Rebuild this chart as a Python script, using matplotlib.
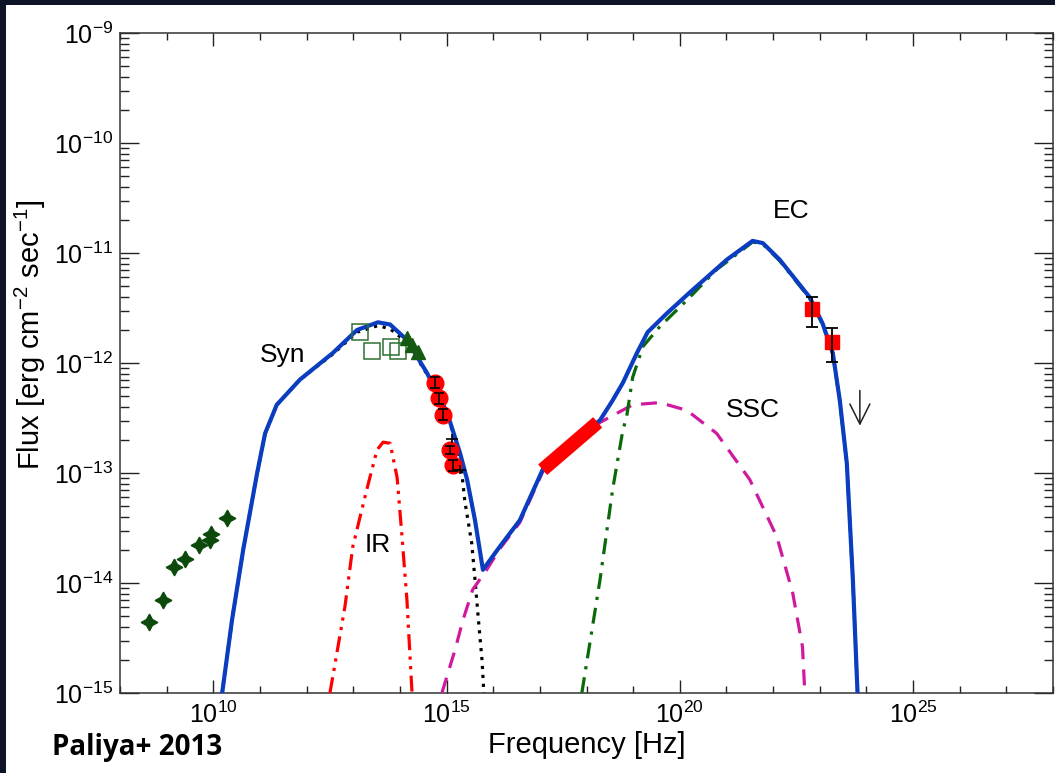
import numpy as np
import matplotlib
matplotlib.use('Agg')
import matplotlib.pyplot as plt
from matplotlib.ticker import FixedLocator, LogFormatterMathtext, NullFormatter
from matplotlib.patches import Rectangle

plt.rcParams['font.family'] = ['Liberation Sans', 'DejaVu Sans']
plt.rcParams['mathtext.fontset'] = 'custom'
plt.rcParams['mathtext.rm'] = 'Liberation Sans'
plt.rcParams['mathtext.it'] = 'Liberation Sans:italic'
plt.rcParams['mathtext.bf'] = 'Liberation Sans:bold'
plt.rcParams['axes.unicode_minus'] = False

# ---------------- data (log10 values) ----------------
# total model (blue)
total_lognu = [10.19, 10.40, 10.64, 10.94, 11.11, 11.36, 11.86, 12.56, 13.08, 13.53, 13.79,
               14.15, 14.58, 15.01, 15.29, 15.44, 15.61, 15.78, 16.14, 16.57, 17.06, 17.64,
               18.29, 18.56, 18.78, 19.08, 19.31, 19.72, 20.21, 21.01, 21.56, 21.78, 22.14,
               22.78, 23.06, 23.28, 23.43, 23.58, 23.71, 23.81]
total_logf = [-15.00, -14.34, -13.70, -13.00, -12.64, -12.38, -12.15, -11.91, -11.70, -11.63, -11.65,
              -11.79, -12.09, -12.45, -12.82, -13.06, -13.43, -13.88, -13.67, -13.43, -12.97, -12.75,
              -12.52, -12.34, -12.18, -11.91, -11.72, -11.55, -11.36, -11.06, -10.89, -10.91, -11.06,
              -11.40, -11.64, -11.91, -12.34, -12.91, -13.97, -15.00]

# synchrotron (black dotted)
syn_lognu = [10.19, 10.40, 10.64, 10.94, 11.11, 11.36, 11.86, 12.56, 13.08, 13.53, 13.79,
             14.15, 14.58, 15.01, 15.29, 15.39, 15.54, 15.61, 15.67, 15.76, 15.80]
syn_logf = [-15.00, -14.34, -13.70, -13.00, -12.64, -12.38, -12.15, -11.92, -11.72, -11.66, -11.69,
            -11.81, -12.10, -12.46, -12.85, -13.25, -13.64, -13.97, -14.27, -14.70, -15.00]

# IR torus (red dash-dot-dot)
ir_lognu = [12.50, 12.82, 12.99, 13.29, 13.51, 13.64, 13.79, 13.94, 14.04, 14.15, 14.26]
ir_logf = [-15.00, -14.22, -13.67, -13.15, -12.79, -12.72, -12.73, -13.04, -13.55, -14.15, -15.00]

# SSC (magenta dashed)
ssc_lognu = [14.90, 15.18, 15.35, 15.56, 15.86, 16.14, 16.57, 17.06, 17.64, 18.29, 18.99,
             19.57, 20.15, 20.79, 21.50, 22.08, 22.42, 22.63, 22.68]
ssc_logf = [-15.00, -14.61, -14.34, -14.06, -13.88, -13.69, -13.45, -12.99, -12.77, -12.54, -12.38,
            -12.36, -12.43, -12.64, -13.06, -13.58, -14.09, -14.58, -15.00]

# EC (green dash-dot)
ec_lognu = [17.90, 18.29, 18.56, 18.78, 18.86, 18.99, 19.21, 19.57, 20.15, 20.79, 21.01,
            21.56, 21.78, 22.14, 22.78, 23.06, 23.28, 23.43, 23.58, 23.71, 23.81]
ec_logf = [-15.00, -13.97, -13.15, -12.61, -12.49, -12.13, -11.85, -11.67, -11.43, -11.15, -11.08,
           -10.90, -10.92, -11.07, -11.41, -11.65, -11.92, -12.35, -12.92, -13.98, -15.00]

# radio (dark green stars)
radio_lognu = [8.62, 8.92, 9.16, 9.39, 9.69, 9.93, 9.95, 10.29]
radio_logf = [-14.35, -14.15, -13.85, -13.78, -13.65, -13.61, -13.55, -13.41]

# IR archival (open squares)
wise_lognu = [13.14, 13.40, 13.81, 13.96]
wise_logf = [-11.72, -11.89, -11.85, -11.89]

# optical (filled triangles)
opt_lognu = [14.15, 14.26, 14.39]
opt_logf = [-11.77, -11.84, -11.90]

# UVOT (red circles)
uv_lognu = [14.75, 14.84, 14.92, 15.07, 15.14]
uv_logf = [-12.18, -12.32, -12.47, -12.79, -12.93]
uv_logerr = [0.05, 0.05, 0.05, 0.04, 0.05]

# extra UV points (black crosses)
uvx_lognu = [15.11, 15.29]
uvx_logf = [-12.69, -12.97]

# X-ray bow-tie (thick red bar)
xray_lognu = [17.06, 18.24]
xray_logf = [-12.97, -12.54]

# Fermi-LAT (red squares)
lat_lognu = [22.83, 23.26]
lat_logf = [-11.51, -11.81]
lat_loglo = [-11.67, -11.99]
lat_loghi = [-11.40, -11.68]

# upper limit
ul_lognu = [23.86]
ul_logf = [-12.25]
ul_logend = [-12.57]

# ---------------------------------------------------------------------------
def p(a):
    return 10.0 ** np.asarray(a, dtype=float)

W, H = 1055, 773
fig = plt.figure(figsize=(W / 100, H / 100), dpi=100)
fig.patch.set_facecolor('#0d1426')
fig.patches.append(Rectangle((6 / W, 0), 1, 1 - 5 / H, transform=fig.transFigure,
                             facecolor='white', edgecolor='none', zorder=-10))

ax = fig.add_axes([120 / W, 80 / H, 933 / W, 660 / H])
ax.set_zorder(5)
ax.set_facecolor('white')
ax.set_xscale('log')
ax.set_yscale('log')
ax.set_xlim(1e8, 1e28)
ax.set_ylim(1e-15, 1e-9)

blue = '#0a3dc0'
ax.plot(p(ir_lognu), p(ir_logf), color='#ff0000', lw=2.3, ls=(0, (5, 2, 1, 2, 1, 2)), zorder=3)
ax.plot(p(syn_lognu), p(syn_logf), color='black', lw=2.3, ls=(0, (1, 1.8)), zorder=3)
ax.plot(p(ssc_lognu), p(ssc_logf), color='#d01a9e', lw=2.3, ls=(0, (5, 3.2)), zorder=3)
ax.plot(p(ec_lognu), p(ec_logf), color='#0a6a0a', lw=2.3, ls=(0, (5, 2.5, 1, 2.5)), zorder=3)
ax.plot(p(total_lognu), p(total_logf), color=blue, lw=3.0, zorder=4, solid_joinstyle='round')

# data
ax.plot(p(radio_lognu), p(radio_logf), ls='none', marker=(4, 1, 0), ms=12,
        color='#0b4a0b', mec='#0b4a0b', zorder=5)
ax.plot(p(wise_lognu), p(wise_logf), ls='none', marker='s', ms=11, mfc='none',
        mec='#2f6f2f', mew=1.1, zorder=5)
ax.plot(p(opt_lognu), p(opt_logf), ls='none', marker='^', ms=10, color='#145a14', zorder=5)

uvf = p(uv_logf)
uerr = np.array([uvf - p(np.array(uv_logf) - np.array(uv_logerr)),
                 p(np.array(uv_logf) + np.array(uv_logerr)) - uvf])
ax.plot(p(uv_lognu), uvf, ls='none', marker='o', ms=12, color='#ff0000', zorder=6)
ax.errorbar(p(uv_lognu), uvf, yerr=uerr, fmt='none', ecolor='black', elinewidth=1.2,
            capsize=3.5, capthick=1.2, zorder=7)

uxf = p(uvx_logf)
uxn = p(uvx_lognu)
ax.errorbar(uxn, uxf,
            xerr=[uxn - uxn / 10 ** 0.13, uxn * 10 ** 0.13 - uxn],
            yerr=[uxf - uxf / 10 ** 0.04, uxf * 10 ** 0.04 - uxf],
            fmt='none', ecolor='black', elinewidth=1.2, zorder=7)

ax.plot(p(xray_lognu), p(xray_logf), color='#ff0000', lw=10, solid_capstyle='butt', zorder=5)

latf = p(lat_logf)
ax.errorbar(p(lat_lognu), latf, yerr=[latf - p(lat_loglo), p(lat_loghi) - latf], fmt='none',
            ecolor='black', elinewidth=1.3, capsize=4, capthick=1.3, zorder=7)
ax.plot(p(lat_lognu), latf, ls='none', marker='s', ms=10, color='#ff0000', zorder=6)

for xn, y0, y1 in zip(ul_lognu, ul_logf, ul_logend):
    ax.annotate('', xy=(p(xn), p(y1)), xytext=(p(xn), p(y0)),
                arrowprops=dict(arrowstyle='->,head_length=0.9,head_width=0.45',
                                mutation_scale=16, color='#222222', lw=1.1,
                                shrinkA=0, shrinkB=0), zorder=7)

# component labels
fs = 19
ax.text(p(11.49), p(-11.93), 'Syn', fontsize=fs, ha='center', va='center')
ax.text(p(13.53), p(-13.65), 'IR', fontsize=fs, ha='center', va='center')
ax.text(p(21.56), p(-12.43), 'SSC', fontsize=fs, ha='center', va='center')
ax.text(p(22.38), p(-10.62), 'EC', fontsize=fs, ha='center', va='center')

# ticks
ax.xaxis.set_major_locator(FixedLocator([1e10, 1e15, 1e20, 1e25]))
ax.xaxis.set_major_formatter(LogFormatterMathtext())
ax.xaxis.set_minor_locator(FixedLocator([10.0 ** k for k in range(8, 29) if k % 5 != 0]))
ax.xaxis.set_minor_formatter(NullFormatter())
ax.yaxis.set_major_locator(FixedLocator([10.0 ** k for k in range(-15, -8)]))
ax.yaxis.set_major_formatter(LogFormatterMathtext())
ax.yaxis.set_minor_locator(FixedLocator([m * 10.0 ** k for k in range(-15, -9) for m in range(2, 10)]))
ax.yaxis.set_minor_formatter(NullFormatter())

ax.tick_params(axis='both', which='both', direction='in', top=True, right=True,
               colors='#222222', labelcolor='black', labelsize=18)
ax.tick_params(axis='x', which='major', length=9.5, width=1.0, pad=6)
ax.tick_params(axis='x', which='minor', length=4.7, width=1.0)
ax.tick_params(axis='y', which='major', length=13.5, width=1.0, pad=5)
ax.tick_params(axis='y', which='minor', length=6.5, width=1.0)
for s in ax.spines.values():
    s.set_linewidth(1.1)
    s.set_color('#333333')

# titles and labels
fig.text(571 / W, 1 - 80 / H, 'Spectral Energy Distribution of PKS 2004-447', fontsize=19,
         ha='center', va='center')
fig.text(588 / W, 1 - 117 / H, '(Mar 2011-Jul 2012)', fontsize=19, ha='center', va='center')
fig.text(587 / W, 1 - 745 / H, 'Frequency [Hz]', fontsize=21, ha='center', va='center')
fig.text(30 / W, 1 - 335 / H, r'Flux [erg cm$^{-2}$ sec$^{-1}$]', fontsize=21,
         ha='center', va='center', rotation=90)
fig.text(52 / W, 1 - 748 / H, 'Paliya+ 2013', fontsize=20, fontweight='bold',
         family=['Open Sans', 'DejaVu Sans'], ha='left', va='center')

fig.savefig('out.png', dpi=100, facecolor=fig.get_facecolor())
